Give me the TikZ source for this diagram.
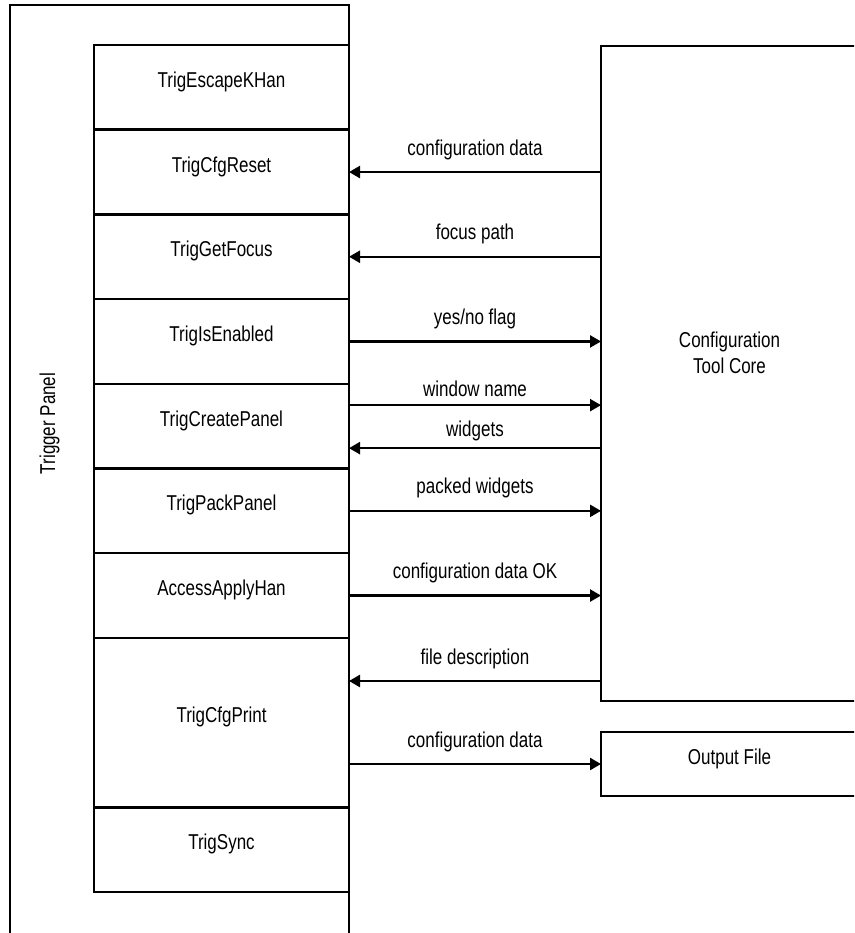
\documentclass[tikz,border=0pt]{standalone}
\usepackage{fontspec}
\setmainfont[FakeStretch=0.79]{Liberation Sans}
\usetikzlibrary{arrows.meta}
\begin{document}
\begin{tikzpicture}[x=1pt,y=-1pt,
  every node/.style={font=\fontsize{21.5}{26}\selectfont, inner sep=0pt, outer sep=0pt},
  frame/.style={draw, line width=2.5pt, rectangle, anchor=north west},
  fnbox/.style={frame, minimum width=255pt, minimum height=84.7pt,
                text height=15pt, text depth=15pt},
  arr/.style={line width=2.4pt, -{Triangle[length=11pt,width=12pt]}},
  lbl/.style={anchor=base, yshift=#1},
  lbl/.default=17pt]
\clip (0,0) rectangle (854,933);
\fill[white] (0,0) rectangle (854,933);

% outer trigger panel (runs past the lower edge)
\node[frame, minimum width=339pt, minimum height=960pt] (panel) at (10,5) {};
\node[rotate=90, anchor=base] (paneltitle) at (55,423.5) {Trigger Panel};

% stack of panel functions
\node[fnbox] (escape)   at (94,45)             {TrigEscapeKHan};
\node[fnbox] (cfgreset) at (escape.south west)  {TrigCfgReset};
\node[fnbox] (getfocus) at (cfgreset.south west) {TrigGetFocus};
\node[fnbox] (enabled)  at (getfocus.south west) {TrigIsEnabled};
\node[fnbox] (create)   at (enabled.south west)  {TrigCreatePanel};
\node[fnbox] (pack)     at (create.south west)   {TrigPackPanel};
\node[fnbox] (apply)    at (pack.south west)     {AccessApplyHan};
\node[fnbox, minimum height=169.4pt] (cfgprint) at (apply.south west) {TrigCfgPrint};
\node[fnbox] (sync)     at (cfgprint.south west) {TrigSync};

% configuration tool core and output file
\node[frame, minimum width=257pt, minimum height=655pt] (core) at (601,46) {};
\node[align=center] (coretitle) at (729.5,353) {Configuration\\Tool Core};
\node[frame, minimum width=257pt, minimum height=64pt,
      text height=15pt, text depth=15pt] (output) at (601,732) {Output File};

% data flows
\draw[arr] (core.west |- cfgreset.east) -- node[lbl]{configuration data} (cfgreset.east);
\draw[arr] (core.west |- getfocus.east) -- node[lbl]{focus path} (getfocus.east);
\draw[arr] (enabled.east) -- node[lbl]{yes/no flag} (core.west |- enabled.east);
\draw[arr] ([yshift=21pt]create.east) -- node[lbl=9pt]{window name} ([yshift=21pt]core.west |- create.east);
\draw[arr] ([yshift=-22pt]core.west |- create.east) -- node[lbl=12pt]{widgets} ([yshift=-22pt]create.east);
\draw[arr] (pack.east) -- node[lbl]{packed widgets} (core.west |- pack.east);
\draw[arr] (apply.east) -- node[lbl]{configuration data OK} (core.west |- apply.east);
\draw[arr] ([yshift=41.6pt]core.west |- cfgprint.east) -- node[lbl]{file description} ([yshift=41.6pt]cfgprint.east);
\draw[arr] (cfgprint.east |- output.west) -- node[lbl]{configuration data} (output.west);
\end{tikzpicture}
\end{document}
